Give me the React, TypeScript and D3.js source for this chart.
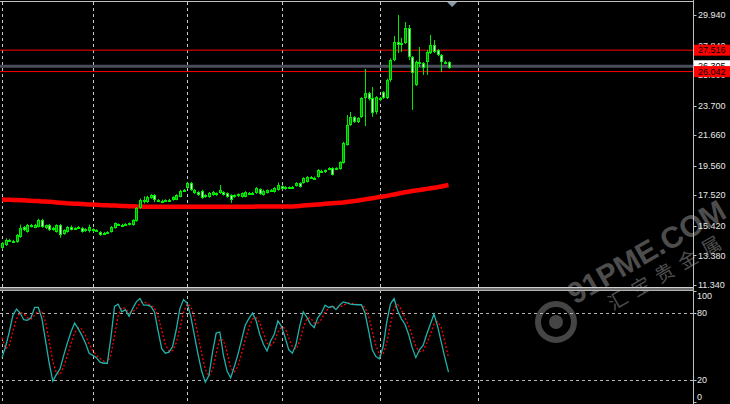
import React from "react";
import * as d3 from "d3";

const W = 730;
const H = 404;

// OHLC candles (price)
const opens = [13.89,14.10,14.44,14.40,14.30,14.65,15.34,14.99,15.45,15.30,15.34,15.82,15.27,15.47,15.13,14.99,15.47,14.85,14.99,15.34,15.20,15.27,15.27,15.06,15.06,15.20,15.13,14.99,14.85,14.92,14.99,15.27,15.54,15.47,15.47,15.50,15.47,15.75,16.64,17.06,17.06,17.33,17.54,17.20,17.15,17.16,17.20,17.20,17.22,17.42,17.84,18.02,18.37,17.68,17.75,17.84,17.40,17.40,17.54,17.68,17.68,17.75,17.68,17.54,17.40,17.45,17.40,17.42,17.70,17.66,17.68,17.95,17.54,17.68,17.88,17.75,17.88,18.16,17.95,18.09,18.07,18.16,18.37,18.37,18.44,18.75,18.71,18.78,19.20,19.12,19.30,19.40,19.33,19.33,19.74,20.99,22.36,22.92,22.57,22.92,24.22,24.57,24.22,23.26,24.22,24.64,24.22,25.46,26.84,28.08,27.87,28.01,29.04,27.05,25.12,26.70,26.63,26.70,27.32,27.87,27.53,27.19,26.70,26.70];
const highs = [14.30,14.55,14.50,14.45,14.85,15.50,15.40,15.55,15.55,15.55,15.90,15.90,15.50,15.55,15.35,15.52,15.55,15.18,15.40,15.45,15.32,15.40,15.34,15.25,15.50,15.25,15.18,15.05,15.00,15.05,15.40,15.65,15.58,15.56,15.60,15.65,15.88,16.70,17.30,17.45,17.50,17.60,17.60,17.26,17.22,17.25,17.28,17.45,17.60,17.90,17.95,18.45,18.44,17.95,17.80,17.90,17.60,17.75,17.82,17.72,18.23,17.80,17.72,17.58,17.58,17.65,17.72,17.80,17.75,17.76,18.08,18.00,17.90,17.92,17.95,18.08,18.40,18.20,18.14,18.14,18.16,18.42,18.42,18.76,18.84,18.85,18.80,19.32,19.28,19.30,19.45,19.45,19.45,19.86,21.20,23.05,23.26,22.98,22.90,24.28,26.22,24.65,24.98,24.35,24.30,24.70,25.55,26.95,28.49,29.94,28.36,29.46,29.25,27.12,26.80,27.74,26.70,27.53,28.56,28.22,27.60,27.25,26.80,26.75];
const lows = [13.80,14.03,14.35,14.30,14.25,14.60,15.05,14.95,15.30,15.25,15.30,15.28,15.20,15.06,15.08,14.95,14.60,14.80,14.95,15.10,15.15,15.22,14.95,15.00,14.95,14.95,15.00,14.72,14.80,14.85,14.95,15.22,15.40,15.42,15.44,15.45,15.42,15.70,16.60,16.95,17.00,17.28,17.05,17.10,17.08,17.10,17.12,17.15,17.18,17.38,17.80,17.98,17.82,17.62,17.48,17.28,17.35,17.35,17.50,17.48,17.62,17.50,17.35,16.99,17.35,17.40,17.36,17.38,17.60,17.62,17.62,17.55,17.50,17.64,17.80,17.70,17.84,17.90,17.90,18.02,18.02,18.12,18.05,18.32,18.40,18.66,18.66,18.74,19.08,19.06,19.25,18.88,19.28,19.28,19.70,20.95,22.30,22.50,22.50,22.85,22.29,24.05,22.92,23.10,24.00,24.15,24.15,25.33,26.75,27.32,27.39,27.95,26.84,23.40,25.05,26.36,25.81,25.81,27.25,27.32,27.10,26.01,26.55,26.25];
const closes = [14.23,14.44,14.40,14.37,14.78,15.27,15.13,15.47,15.38,15.47,15.82,15.34,15.45,15.13,15.30,15.47,14.78,15.13,15.34,15.13,15.27,15.34,14.99,15.20,15.34,15.13,15.06,14.78,14.92,14.99,15.34,15.61,15.47,15.50,15.54,15.58,15.82,16.64,17.20,17.20,17.40,17.54,17.20,17.15,17.16,17.20,17.22,17.40,17.54,17.84,17.88,18.37,17.88,17.88,17.54,17.33,17.54,17.68,17.75,17.54,17.88,17.54,17.40,17.20,17.54,17.61,17.68,17.75,17.66,17.70,18.02,17.61,17.84,17.88,17.86,18.02,18.23,17.95,18.09,18.07,18.12,18.37,18.09,18.71,18.78,18.71,18.74,19.26,19.12,19.26,19.40,18.92,19.40,19.81,21.12,22.36,22.92,22.57,22.85,24.22,24.57,24.15,23.19,24.29,24.08,24.22,25.46,26.84,28.08,27.87,28.01,29.04,27.05,25.94,26.70,26.65,26.29,27.39,27.87,27.39,27.19,26.70,26.65,26.305];

// Moving average (thick red line)
const maValues = [17.23,17.22,17.21,17.20,17.19,17.18,17.17,17.16,17.14,17.13,17.12,17.10,17.09,17.07,17.05,17.03,17.01,16.99,16.97,16.96,16.94,16.93,16.92,16.90,16.89,16.88,16.87,16.85,16.84,16.83,16.82,16.81,16.80,16.79,16.78,16.77,16.76,16.75,16.74,16.73,16.73,16.73,16.73,16.73,16.73,16.73,16.73,16.73,16.73,16.73,16.73,16.73,16.73,16.73,16.73,16.73,16.73,16.73,16.73,16.73,16.73,16.73,16.73,16.73,16.73,16.73,16.73,16.73,16.73,16.73,16.74,16.74,16.74,16.74,16.74,16.74,16.74,16.74,16.74,16.74,16.75,16.77,16.79,16.81,16.83,16.85,16.87,16.89,16.91,16.93,16.95,16.97,16.99,17.01,17.03,17.06,17.09,17.12,17.16,17.20,17.24,17.28,17.32,17.36,17.40,17.44,17.48,17.53,17.58,17.63,17.68,17.73,17.77,17.81,17.85,17.88,17.92,17.96,18.00,18.04,18.08,18.13,18.18,18.23];

// Stochastic oscillator
const stochMain = [40,50,63,78,83.5,80,74,73.5,76,85,85,75,55,35,19,25,30,42,53,63,71,66,60,53,44,42,40,36,35,35,58,86,88,81,83,77,84,90,93,87,87,86,81,64,48,44,45,50,65,84,92,89,77,60,43,28,18,24,45,62,63,42,28,22,32,43,56,69,75,80,73,61,52,46,55,61,73,68,58,47,44,52,68,81,76,70,67,76,80,87,85,86,83,87,90,89,88,87.5,87.4,87.4,80,64,47,41,39,50,72,88,93,82,75,70,61,49,40,47,51,61,70,79,68,54,40,27];
const stochSignal = [58,48,51,63.7,74.8,80.5,79.2,75.8,74.5,78.2,82,81.7,71.7,55,36.3,26.3,24.7,32.3,41.7,52.7,62.3,66.7,65.7,59.7,52.3,46.3,42,39.3,37,35.3,42.7,59.7,77.3,85,84,80.3,81.3,83.7,89,90,89,86.7,84.7,77,64.3,52,45.7,46.3,53.3,66.3,80.3,88.3,86,75.3,60,43.7,29.7,23.3,29,43.7,56.7,55.7,44.3,30.7,27.3,32.3,43.7,56,66.7,74.7,76,71.3,62,53,51,54,63,67.3,66.3,57.7,49.7,47.7,54.7,67,75,75.7,71,71,74.3,81,84,86,84.7,85.3,86.7,88.7,89,88.2,87.6,87.4,84.9,77.1,63.7,50.7,42.3,43.3,53.7,70,84.3,87.7,83.3,75.7,68.7,60,50,45.3,46,53,60.7,70,72.3,67,54,40.3];

// Axis ticks
const priceTicks = [29.94, 27.84, 25.8, 23.7, 21.66, 19.56, 17.52, 15.42, 13.38, 11.34];
const oscTicks = [100, 80, 20, 0];
const oscLevels = [80, 20];
const gridIdx = [0, 25, 51, 77, 104, 131];

// Horizontal price lines
const redLines = [27.516, 26.042];
const bidPrice = 26.305;

const AXIS_X = 693.5;
const FONT = "'Liberation Sans', Arial, sans-serif";

export default function App() {
  const n = closes.length;
  const x = d3.scaleLinear().domain([0, n - 1]).range([2, 448.5]);
  const yMain = d3.scaleLinear().domain([11.34, 29.94]).range([285, 15]);
  const yOsc = d3.scaleLinear().domain([0, 100]).range([402.3, 290.7]);

  const maLine = d3.line<number>().x((_, i) => x(i)).y((d) => yMain(d));
  const oscLine = d3.line<number>().x((_, i) => x(i)).y((d) => yOsc(d));

  const candles = closes.map((c, i) => {
    const o = opens[i];
    const cx = Math.round(x(i));
    const top = Math.round(yMain(Math.max(o, c)));
    const bot = Math.round(yMain(Math.min(o, c)));
    const bh = Math.max(2, bot - top);
    const bull = c >= o;
    return (
      <g key={i}>
        <line x1={cx + 0.5} x2={cx + 0.5} y1={yMain(highs[i])} y2={yMain(lows[i])} stroke="#00e800" strokeWidth={1} />
        <rect x={cx - 1} y={top} width={3} height={bh} fill="#00f000" />
        {bh > 2 && (
          <rect x={cx} y={top + 1} width={1} height={bh - 2} fill={bull ? "#008c00" : "#eaffea"} />
        )}
      </g>
    );
  });

  const labelBox = (price: number, bg: string, fg: string, key: string, dy = 0) => {
    const yy = yMain(price) + dy;
    return (
      <g key={key}>
        <rect x={694} y={yy - 5.5} width={36} height={11} fill={bg} />
        <text x={698} y={yy} dy="0.35em" fontSize={9} fontFamily={FONT} fill={fg}>
          {price.toFixed(3)}
        </text>
      </g>
    );
  };

  return (
    <svg
      width={W}
      height={H}
      style={{ position: "absolute", left: 0, top: 0, background: "#000" }}
    >
      <defs>
        <clipPath id="mainClip">
          <rect x={0} y={2} width={AXIS_X} height={284} />
        </clipPath>
        <clipPath id="oscClip">
          <rect x={0} y={291} width={AXIS_X} height={113} />
        </clipPath>
      </defs>
      <rect x={0} y={0} width={W} height={H} fill="#000" />

      {/* vertical grid */}
      {gridIdx.map((g) => (
        <line
          key={g}
          x1={Math.round(x(g)) + 0.5}
          x2={Math.round(x(g)) + 0.5}
          y1={2}
          y2={H}
          stroke="#c8c8c8"
          strokeWidth={1}
          strokeDasharray="3,3"
        />
      ))}

      {/* watermark */}
      <g opacity={0.5}>
        <circle cx={556} cy={322} r={18} fill="none" stroke="#8a8a8a" strokeWidth={6} />
        <circle cx={556} cy={322} r={7} fill="#8a8a8a" />
        <g transform="translate(575,305) rotate(-30)">
          <text x={0} y={0} fontSize={30} fontWeight="bold" fontFamily="'Liberation Sans', Arial, sans-serif" fill="#9a9a9a">
            91PME.COM
          </text>
          <text x={30} y={24} fontSize={19} fontFamily="'Noto Sans CJK SC', sans-serif" fill="#9a9a9a" letterSpacing={8}>
            汇宝贵金属
          </text>
        </g>
      </g>

      {/* main panel */}
      <g clipPath="url(#mainClip)">
        {redLines.map((p) => (
          <line key={p} x1={0} x2={AXIS_X} y1={yMain(p)} y2={yMain(p)} stroke="#ff0000" strokeWidth={1} />
        ))}
        <line x1={0} x2={AXIS_X} y1={yMain(bidPrice) - 1.5} y2={yMain(bidPrice) - 1.5} stroke="#4a4e5a" strokeWidth={3} />
        <path d={maLine(maValues) || ""} fill="none" stroke="#ff0000" strokeWidth={4.5} strokeLinejoin="round" />
        {candles}
      </g>

      {/* oscillator panel */}
      <g clipPath="url(#oscClip)">
        {oscLevels.map((l) => (
          <line
            key={l}
            x1={0}
            x2={AXIS_X}
            y1={Math.round(yOsc(l)) + 0.5}
            y2={Math.round(yOsc(l)) + 0.5}
            stroke="#b4b4b4"
            strokeWidth={1}
            strokeDasharray="3,3"
          />
        ))}
        <path d={oscLine(stochSignal) || ""} fill="none" stroke="#ff0000" strokeWidth={1.3} strokeDasharray="2,2" />
        <path d={oscLine(stochMain) || ""} fill="none" stroke="#20b2aa" strokeWidth={1.3} />
      </g>

      {/* frame */}
      <line x1={0} x2={AXIS_X} y1={1.5} y2={1.5} stroke="#c0c0c0" strokeWidth={1} />
      <rect x={0} y={287} width={AXIS_X} height={4} fill="#707070" />
      <line x1={0} x2={AXIS_X} y1={287.5} y2={287.5} stroke="#d0d0d0" strokeWidth={1} />
      <line x1={0} x2={AXIS_X} y1={290.5} y2={290.5} stroke="#b0b0b0" strokeWidth={1} />
      <line x1={AXIS_X} x2={AXIS_X} y1={0} y2={H} stroke="#c0c0c0" strokeWidth={1} />
      <path
        d={`M${x(n) - 5},2 L${x(n) + 5},2 L${x(n)},7 Z`}
        fill="#8a9aaa"
      />

      {/* price axis */}
      {priceTicks.map((t) => (
        <g key={t}>
          <line x1={AXIS_X} x2={AXIS_X + 3} y1={Math.round(yMain(t)) + 0.5} y2={Math.round(yMain(t)) + 0.5} stroke="#c0c0c0" />
          <text x={698} y={yMain(t)} dy="0.35em" fontSize={9} fontFamily={FONT} fill="#e8e8e8">
            {t.toFixed(3)}
          </text>
        </g>
      ))}
      {labelBox(bidPrice, "#ffffff", "#000000", "bid", -2)}
      {redLines.map((p) => labelBox(p, "#ff0000", "#000000", "r" + p))}

      {/* oscillator axis */}
      {oscTicks.map((t) => {
        const yy = Math.min(Math.max(yOsc(t), 296), 397);
        return (
          <g key={t}>
            <line x1={AXIS_X} x2={AXIS_X + 3} y1={Math.round(yOsc(t)) + 0.5} y2={Math.round(yOsc(t)) + 0.5} stroke="#c0c0c0" />
            <text x={697} y={yy} dy="0.35em" fontSize={9} fontFamily={FONT} fill="#e8e8e8">
              {t}
            </text>
          </g>
        );
      })}
    </svg>
  );
}
